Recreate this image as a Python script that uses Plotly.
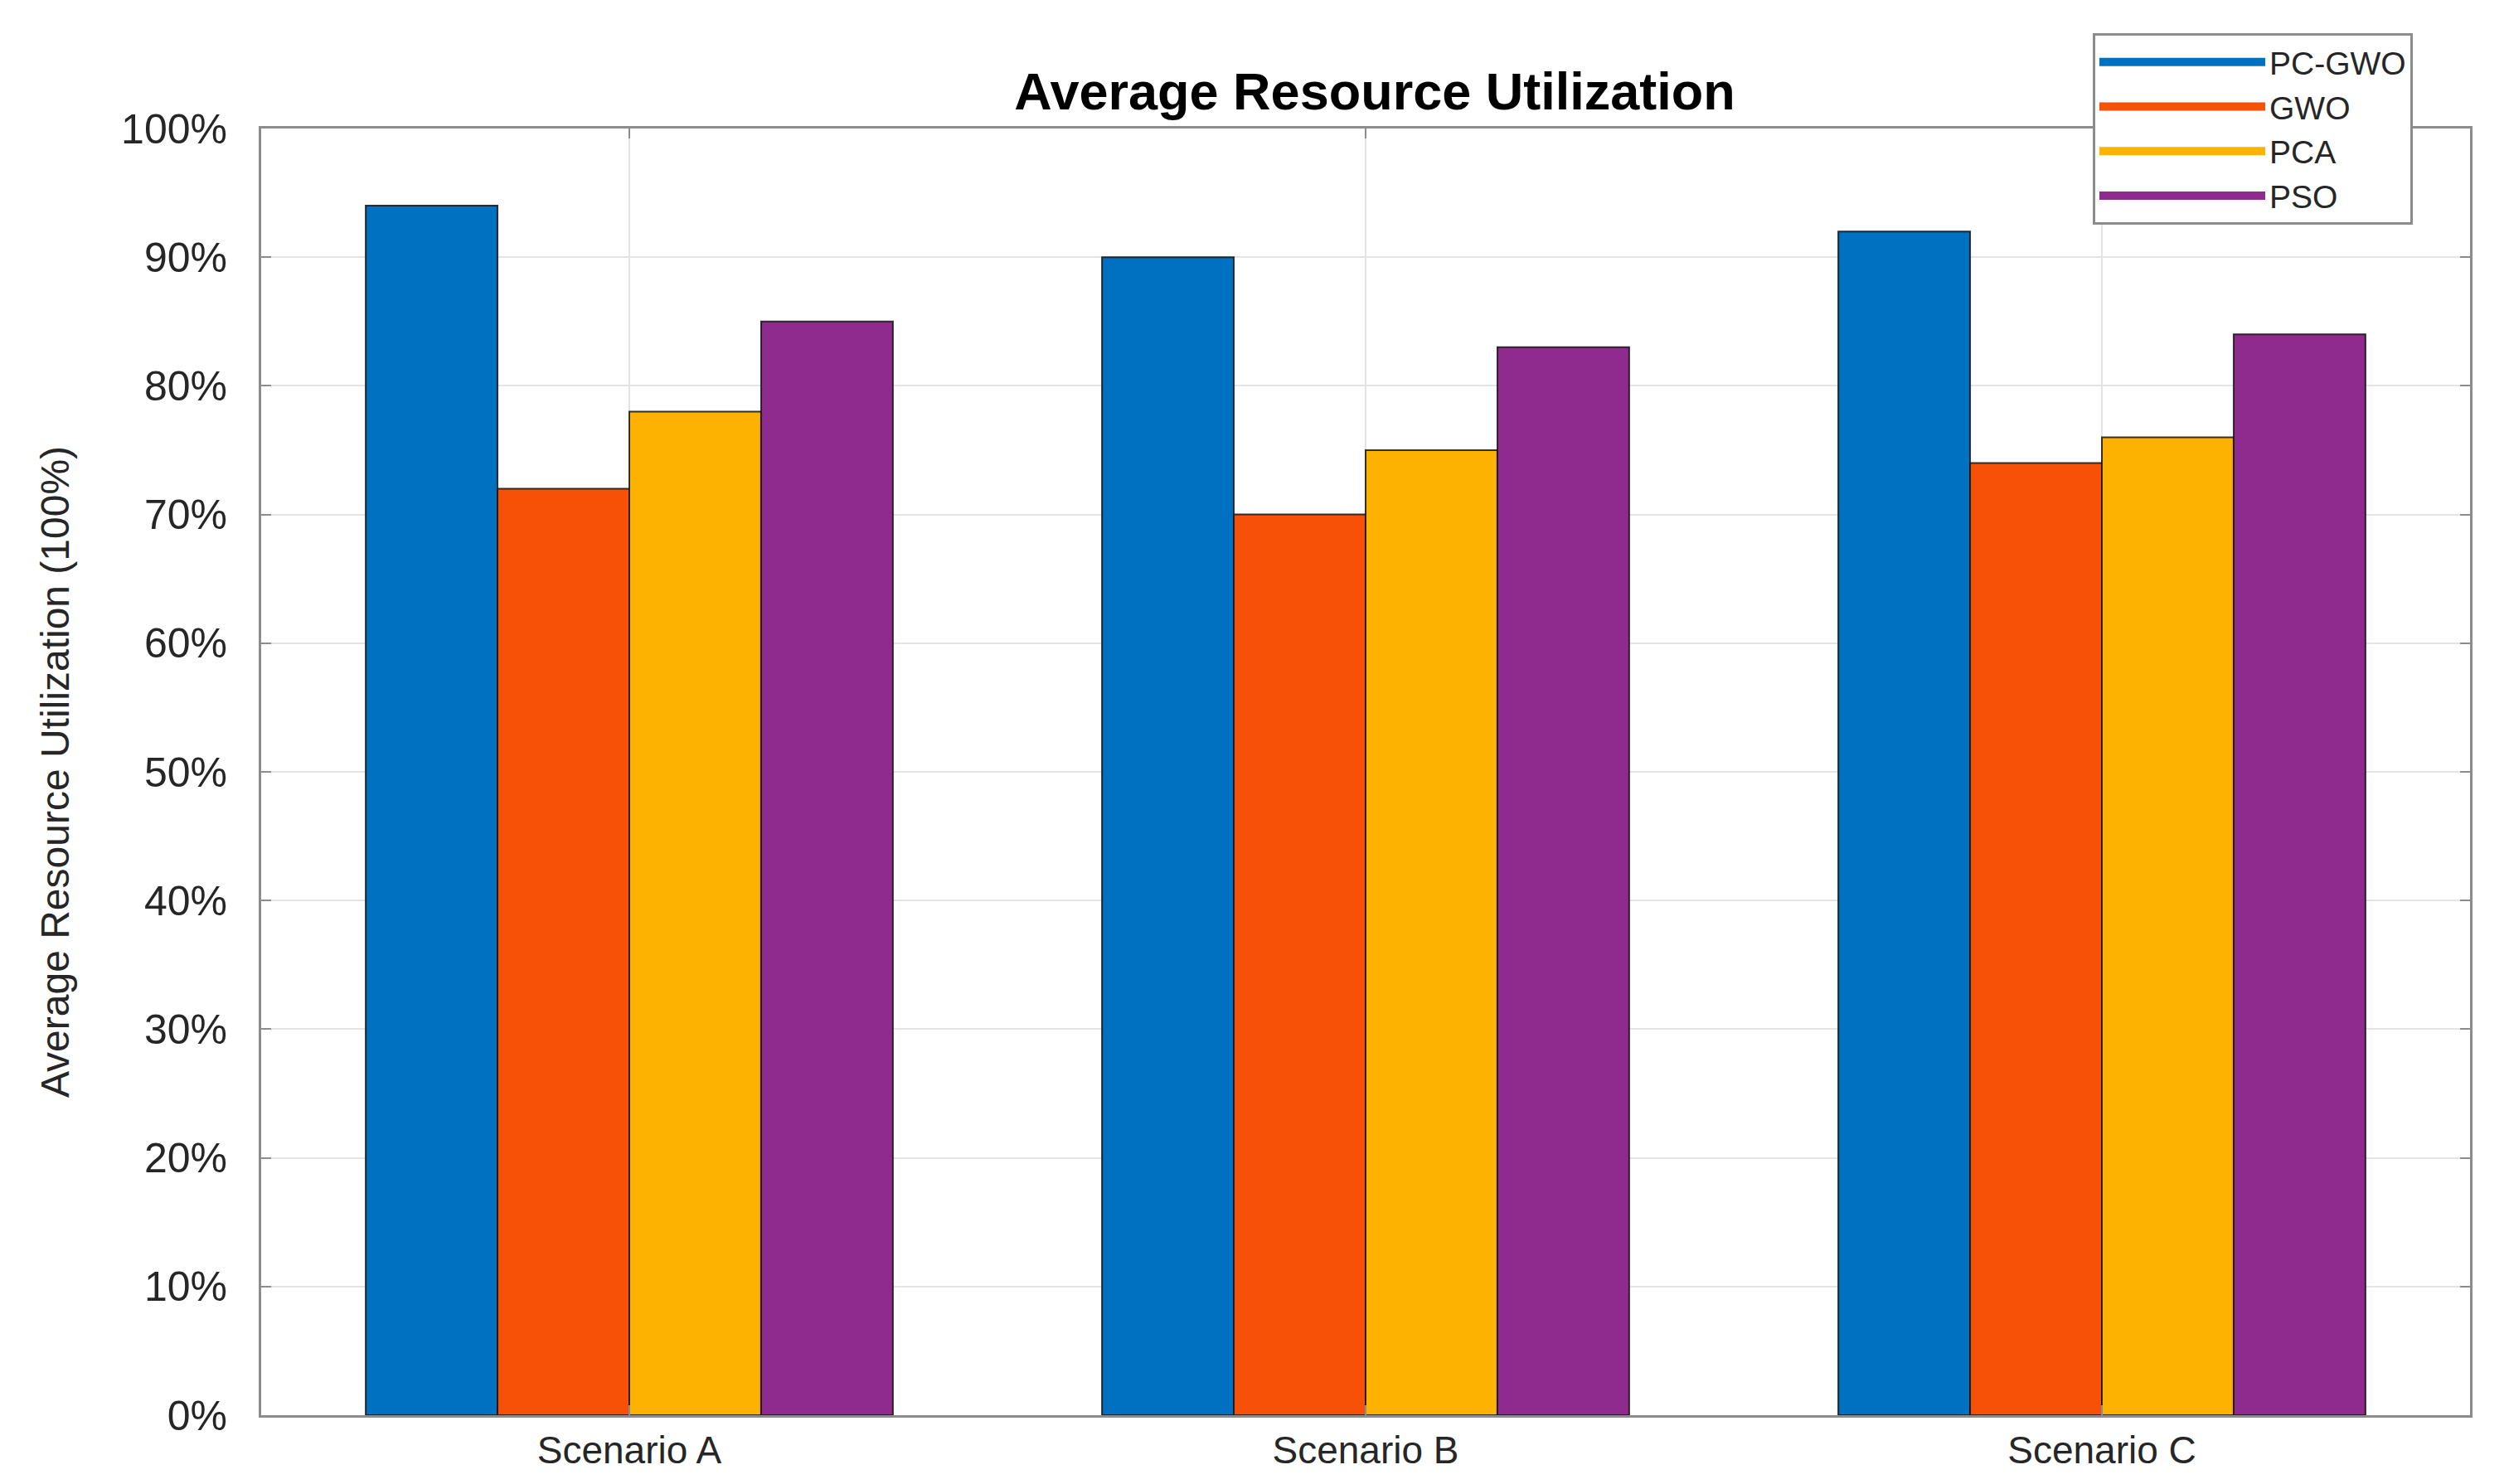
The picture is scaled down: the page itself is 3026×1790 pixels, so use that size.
import plotly.graph_objects as go

scenarios = ["Scenario A", "Scenario B", "Scenario C"]
methods = ["PC-GWO", "GWO", "PCA", "PSO"]
pc_gwo = [94, 90, 92]
gwo = [72, 70, 74]
pca = [78, 75, 76]
pso = [85, 83, 84]
y_ticks = [0, 10, 20, 30, 40, 50, 60, 70, 80, 90, 100]
y_tick_labels = [f"{v}%" for v in y_ticks]

colors = ["#0070C0", "#F75108", "#FDB101", "#8F2A8E"]
series = [pc_gwo, gwo, pca, pso]

FONT = "Liberation Sans, Arial, sans-serif"

fig = go.Figure()
for name, vals, col in zip(methods, series, colors):
    fig.add_trace(go.Bar(
        x=scenarios, y=vals, name=name, showlegend=False,
        marker=dict(color=col, line=dict(color="rgba(20,20,20,0.85)", width=2)),
    ))
# legend proxies (wide swatches)
for name, col in zip(methods, colors):
    fig.add_trace(go.Scatter(
        x=[None], y=[None], mode="lines", name=name,
        line=dict(color=col, width=34),
    ))

fig.update_layout(
    width=3026, height=1790,
    paper_bgcolor="white", plot_bgcolor="white",
    margin=dict(l=307, r=55, t=147, b=91, autoexpand=False),
    barmode="group", bargap=0.284, bargroupgap=0,
    font=dict(family=FONT, color="#262626"),
    title=dict(
        text="<b>Average Resource Utilization</b>",
        x=1650 / 3026, xanchor="center", xref="container",
        y=1 - 102 / 1790, yanchor="middle", yref="container",
        font=dict(size=63, color="#000000", family=FONT),
    ),
    legend=dict(
        xref="container", yref="container",
        x=2516 / 3026, y=1 - 32 / 1790, xanchor="left", yanchor="top",
        bgcolor="white", bordercolor="#8C8C8C", borderwidth=3,
        font=dict(size=39, color="#262626", family=FONT),
        itemwidth=200, tracegroupgap=0,
    ),
)

fig.update_xaxes(
    showline=True, linecolor="#8C8C8C", linewidth=3, mirror="ticks",
    ticks="inside", ticklen=12, tickcolor="#8C8C8C", tickwidth=2,
    showgrid=True, gridcolor="#E4E4E4", gridwidth=2,
    tickfont=dict(size=46, color="#262626"),
    ticklabelstandoff=0,
)
fig.update_yaxes(
    range=[0, 100], tickmode="array", tickvals=y_ticks, ticktext=y_tick_labels,
    showline=True, linecolor="#8C8C8C", linewidth=3, mirror="ticks",
    ticks="inside", ticklen=12, tickcolor="#8C8C8C", tickwidth=2,
    showgrid=True, gridcolor="#E4E4E4", gridwidth=2, zeroline=False,
    tickfont=dict(size=50, color="#262626"),
    ticklabelstandoff=28,
    title=dict(text="Average Resource Utilization (100%)",
               font=dict(size=48, color="#262626"), standoff=48),
)

fig.write_html("out.html")
